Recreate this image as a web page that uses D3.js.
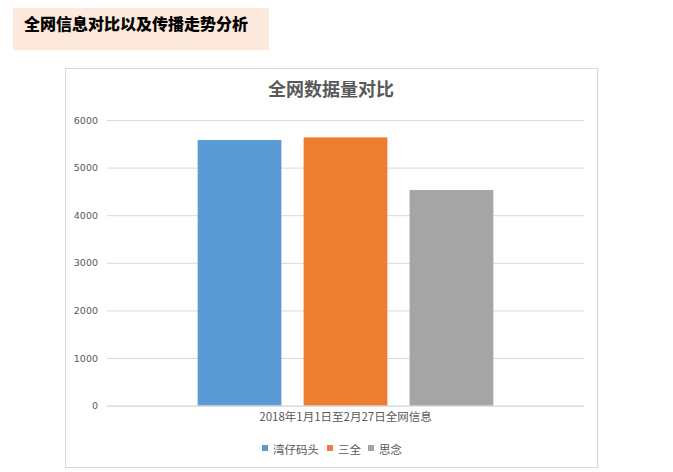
<!DOCTYPE html>
<html><head><meta charset="utf-8">
<script src="https://cdn.jsdelivr.net/npm/d3@7/dist/d3.min.js"></script>
<style>
html,body{margin:0;padding:0;background:#fff;}
svg{display:block;}
</style></head>
<body>
<svg id="c" width="673" height="472"></svg>
<script>
const categories = ["2018年1月1日至2月27日全网信息"];
const seriesNames = ["湾仔码头", "三全", "思念"];
const seriesValues = [5580, 5635, 4530];
const seriesColors = ["#5b9bd5", "#ed7d31", "#a5a5a5"];
const yTicks = [0, 1000, 2000, 3000, 4000, 5000, 6000];

(function(){
const svg = d3.select("#c");
const cjk = "'Noto Sans CJK SC','Noto Sans',sans-serif";
const txt = "#595959";

// header banner
svg.append("rect").attr("x", 13).attr("y", 8).attr("width", 256).attr("height", 42).attr("fill", "#fde9dc");
svg.append("text").attr("x", 24).attr("y", 23).attr("dominant-baseline", "central")
  .attr("font-family", cjk).attr("font-weight", 900).attr("font-size", 16).attr("fill", "#000")
  .text("全网信息对比以及传播走势分析");

// chart frame
svg.append("rect").attr("x", 65.5).attr("y", 68.5).attr("width", 532).attr("height", 399)
  .attr("fill", "#fff").attr("stroke", "#d9d9d9").attr("stroke-width", 1);

svg.append("text").attr("x", 331).attr("y", 88).attr("text-anchor", "middle").attr("dominant-baseline", "central")
  .attr("font-family", cjk).attr("font-weight", 700).attr("font-size", 18).attr("fill", txt)
  .text("全网数据量对比");

const pLeft = 107, pRight = 584, pTop = 120, pBottom = 405.6;
const y = d3.scaleLinear().domain([0, 6000]).range([pBottom, pTop]);
const x0 = d3.scaleBand().domain(categories).range([pLeft, pRight]).paddingInner(0).paddingOuter(0.3066);
const x1 = d3.scaleBand().domain(seriesNames).range([0, x0.bandwidth()]).paddingInner(0.21).paddingOuter(0);

// gridlines
const gy = svg.append("g").attr("transform", `translate(${pLeft},0)`)
  .call(d3.axisLeft(y).tickValues(yTicks).tickSize(-(pRight - pLeft)).tickPadding(9).tickFormat(d3.format("d")));
gy.select(".domain").remove();
gy.selectAll(".tick line").attr("stroke", "#d9d9d9").attr("stroke-width", 1);
gy.selectAll(".tick text").attr("font-family", "'DejaVu Sans',Verdana,sans-serif").attr("font-size", 9.5)
  .attr("fill", txt).attr("x", -9);

// bars
const g = svg.append("g");
categories.forEach(c => {
  seriesNames.forEach((s, i) => {
    g.append("rect")
      .attr("x", x0(c) + x1(s))
      .attr("y", y(seriesValues[i]))
      .attr("width", x1.bandwidth())
      .attr("height", y(0) - y(seriesValues[i]))
      .attr("fill", seriesColors[i]);
  });
});

// category axis
const gx = svg.append("g").attr("transform", `translate(0,${pBottom})`)
  .call(d3.axisBottom(x0).tickSize(0).tickPadding(7));
gx.select(".domain").attr("stroke", "#d9d9d9");
gx.selectAll(".tick text").attr("font-family", cjk).attr("font-size", 11.5).attr("fill", txt);

// legend
const legX = [262, 327, 368];
const lg = svg.append("g");
seriesNames.forEach((s, i) => {
  lg.append("rect").attr("x", legX[i]).attr("y", 445).attr("width", 6).attr("height", 6).attr("fill", seriesColors[i]);
  lg.append("text").attr("x", legX[i] + 11).attr("y", 448.5).attr("dominant-baseline", "central")
    .attr("font-family", cjk).attr("font-size", 11.5).attr("fill", txt).text(s);
});
})();
</script>
</body></html>
